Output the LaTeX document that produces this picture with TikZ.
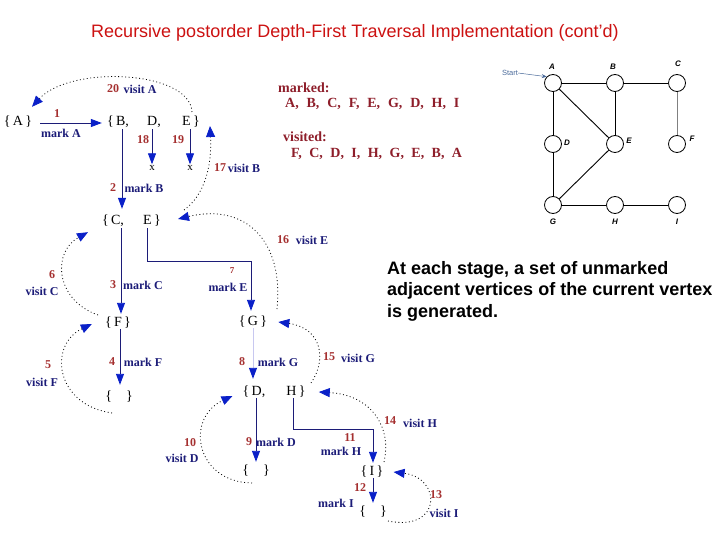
\documentclass[tikz,border=0pt]{standalone}
\usepackage{fontspec}
\setmainfont{Liberation Serif}
\setsansfont{Liberation Sans}
\usetikzlibrary{arrows.meta}
\definecolor{navy}{HTML}{1C1C78}
\definecolor{tipblue}{HTML}{0A20C8}
\definecolor{numred}{HTML}{A53030}
\definecolor{titlered}{HTML}{CC1111}
\definecolor{mred}{HTML}{8E1E2A}
\definecolor{faint}{HTML}{C8C8F0}
\definecolor{startblue}{HTML}{4A6A9A}
\begin{document}
\begin{tikzpicture}[x=1pt,y=-1pt,
  set/.style={font=\fontsize{14}{14}\selectfont, inner sep=0pt, text height=9pt, text depth=3pt},
  num/.style={font=\bfseries\fontsize{12}{12}\selectfont, text=numred, inner sep=0pt},
  lbl/.style={font=\bfseries\fontsize{12}{12}\selectfont, text=navy, inner sep=0pt},
  arr/.style={draw=navy, line width=0.9pt, -{Triangle[length=11pt,width=8pt,color=tipblue]}},
  farr/.style={arr, draw=faint},
  dots/.style={draw=black, dash pattern=on 0.9pt off 2.6pt, line width=0.8pt, -{Triangle[length=11pt,width=9pt,color=tipblue]}},
  vtx/.style={circle, draw, line width=0.8pt, minimum size=17pt, inner sep=0pt, fill=white},
  vl/.style={font=\sffamily\itshape\bfseries\fontsize{8}{8}\selectfont, inner sep=0pt},
  ge/.style={line width=0.9pt},
  info/.style={font=\bfseries\fontsize{14}{14}\selectfont, text=mred, inner sep=0pt, anchor=west}
]
\useasboundingbox (0,0) rectangle (720,540);

% title
\node[font=\sffamily\fontsize{18}{20}\selectfont, text=titlered, inner sep=0pt] (title) at (355,33) {Recursive postorder Depth-First Traversal Implementation (cont'd)};

% sets
\node[set] (sA)  at (18,123)  {\{\,A\,\}};
\node[set] (sB1) at (118,123) {\{\,B,};
\node[set] (sB2) at (154,123) {D,};
\node[set] (sB3) at (191,123) {E\,\}};
\node[set, font=\fontsize{11}{11}\selectfont, text height=5pt, text depth=0pt] (x1) at (152,168) {x};
\node[set, font=\fontsize{11}{11}\selectfont, text height=5pt, text depth=0pt] (x2) at (190,168) {x};
\node[set] (sC1) at (113,222) {\{\,C,};
\node[set] (sC2) at (152,222) {E\,\}};
\node[set] (sF)  at (118,323) {\{\,F\,\}};
\node[set] (sG)  at (253,322) {\{\,G\,\}};
\node[set] (sE1) at (119,397) {\{\quad\}};
\node[set] (sD1) at (254,392) {\{\,D,};
\node[set] (sD2) at (296,392) {H\,\}};
\node[set] (sE2) at (256,471) {\{\quad\}};
\node[set] (sI)  at (372,472) {\{\,I\,\}};
\node[set] (sE3) at (373,512) {\{\quad\}};

% solid arrows
\draw[arr, shorten <=8pt, shorten >=5pt] (sA.east) -- (sB1.west);
\draw[arr, shorten >=7pt] ([xshift=4pt]sB1.south) -- ([xshift=4pt]sB1.south |- sC1.north);
\draw[arr, shorten >=1pt] (x1 |- sB2.south) -- (x1.north);
\draw[arr, shorten >=1pt] (x2 |- sB3.south) -- (x2.north);
\draw[arr, shorten >=3pt] ([xshift=8pt]sC1.south) -- ([xshift=8pt]sC1.south |- sF.north);
\draw[arr, shorten >=5pt] ([xshift=-5pt]sC2.south) -- ++(0,33) -| ([xshift=-2pt]sG.north);
\draw[arr, shorten >=6pt] ([xshift=2pt]sF.south) -- ([xshift=2pt]sF.south |- sE1.north);
\draw[farr, shorten >=7pt] (sG.south) -- (sG.south |- sD1.north);
\draw[arr, shorten >=3pt] ([xshift=2pt]sD1.south) -- ([xshift=2pt]sD1.south |- sE2.north);
\draw[arr, shorten >=3pt] ([xshift=-3pt]sD2.south) -- ++(0,31) -| ([xshift=1pt]sI.north);
\draw[arr, shorten >=3pt] ([xshift=1pt]sI.south) -- ([xshift=1pt]sI.south |- sE3.north);

% labels of solid arrows
\node[num] (n1) at (57,114) {1};   \node[lbl] (m1) at (61,133) {mark A};
\node[num] (n2) at (113,188) {2};  \node[lbl] (m2) at (144,188) {mark B};
\node[num] (n18) at (143,140) {18};
\node[num] (n19) at (178,140) {19};
\node[num] (n3) at (113,285) {3};  \node[lbl] (m3) at (143,285) {mark C};
\node[num, font=\bfseries\fontsize{9}{9}\selectfont] (n7) at (232,271) {7}; \node[lbl] (m7) at (228,287) {mark E};
\node[num] (n4) at (112,362) {4};  \node[lbl] (m4) at (143,362) {mark F};
\node[num] (n8) at (242,362) {8};  \node[lbl] (m8) at (278,362) {mark G};
\node[num] (n9) at (249,442) {9};  \node[lbl] (m9) at (276,442) {mark D};
\node[num] (n11) at (350,438) {11}; \node[lbl] (m11) at (341,451) {mark H};
\node[num] (n12) at (360,488) {12}; \node[lbl] (m12) at (336,503) {mark I};

% dotted return arcs
\coordinate (c20) at (192,112);
\coordinate (c17) at (184,210);
\coordinate (c16) at (277,309);
\coordinate (c6)  at (98,315);
\coordinate (c5)  at (112,413);
\coordinate (c15) at (311,383);
\coordinate (c14) at (384,462);
\coordinate (c13) at (388,521);
\coordinate (c10) at (252,483);
\draw[dots] (c20) .. controls (190,70) and (70,65) .. ([shift={(14pt,10pt)}]sA.north);
\draw[dots] (c17) .. controls (205,195) and (212,165) .. ([xshift=10pt,yshift=-3pt]sB3.east);
\draw[dots] (c16) .. controls (284,240) and (245,203) .. ([xshift=17pt,yshift=3pt]sC2.east);
\draw[dots] (c6) .. controls (55,300) and (52,252) .. ([shift={(-25pt,-4pt)}]sC1.south);
\draw[dots] (c5) .. controls (55,405) and (48,345) .. ([xshift=-13pt,yshift=-1pt]sF.west);
\draw[dots] (c15) .. controls (327,360) and (322,328) .. ([xshift=11pt]sG.east);
\draw[dots] (c14) .. controls (392,428) and (372,395) .. ([xshift=13pt]sD2.east);
\draw[dots] (c13) .. controls (442,532) and (442,478) .. ([xshift=10pt]sI.east);
\draw[dots] (c10) .. controls (195,482) and (185,418) .. ([xshift=-10pt,yshift=-4pt]sD1.west);

% labels of dotted arcs
\node[num] (n20) at (113,89) {20};  \node[lbl] (v20) at (140,89) {visit A};
\node[num] (n17) at (220,168) {17}; \node[lbl] (v17) at (244,168) {visit B};
\node[num] (n16) at (283,240) {16}; \node[lbl] (v16) at (312,240) {visit E};
\node[num] (n6) at (52,275) {6};    \node[lbl] (v6) at (42,291) {visit C};
\node[num] (n5) at (48,365) {5};    \node[lbl] (v5) at (42,382) {visit F};
\node[num] (n15) at (329,357) {15}; \node[lbl] (v15) at (358,358) {visit G};
\node[num] (n14) at (390,421) {14}; \node[lbl] (v14) at (420,423) {visit H};
\node[num] (n10) at (190,443) {10}; \node[lbl] (v10) at (182,458) {visit D};
\node[num] (n13) at (436,495) {13}; \node[lbl] (v13) at (444,513) {visit I};

% marked / visited
\node[info] (mk) at (278,88) {marked:};
\node[info] (mkl) at (285,104) {A,\hspace{0.56em}B,\hspace{0.56em}C,\hspace{0.56em}F,\hspace{0.56em}E,\hspace{0.56em}G,\hspace{0.56em}D,\hspace{0.56em}H,\hspace{0.56em}I};
\node[info] (vs) at (283,137) {visited:};
\node[info] (vsl) at (291,154) {F,\hspace{0.53em}C,\hspace{0.53em}D,\hspace{0.53em}I,\hspace{0.53em}H,\hspace{0.53em}G,\hspace{0.53em}E,\hspace{0.53em}B,\hspace{0.53em}A};

% explanation
\node[font=\sffamily\bfseries\fontsize{18}{21.5}\selectfont, align=left, anchor=base west, inner sep=0pt] (txt) at (387,317)
  {At each stage, a set of unmarked\\adjacent vertices of the current vertex\\is generated.};

% graph
\node[vtx] (A) at (553,83) {};
\node[vtx] (B) at (615,83) {};
\node[vtx] (C) at (677,83) {};
\node[vtx] (D) at (553,144) {};
\node[vtx] (E) at (615,144) {};
\node[vtx] (F) at (677,144) {};
\node[vtx] (G) at (553,205) {};
\node[vtx] (H) at (615,205) {};
\node[vtx] (I) at (677,205) {};
\draw[ge] (A) -- (B);
\draw[ge] (B) -- (C);
\draw[ge] (A) -- (D);
\draw[ge] (A) -- (E);
\draw[ge] (B) -- (E);
\draw[ge, draw=gray] (C) -- (F);
\draw[ge] (D) -- (G);
\draw[ge] (E) -- (G);
\draw[ge] (G) -- (H);
\draw[ge] (H) -- (I);
\node[vl] (lA) at (552,67) {A};
\node[vl] (lB) at (613,67) {B};
\node[vl] (lC) at (678,64) {C};
\node[vl] (lD) at (567,143) {D};
\node[vl] (lE) at (629,141) {E};
\node[vl] (lF) at (692,139) {F};
\node[vl] (lG) at (553,222) {G};
\node[vl] (lH) at (615,222) {H};
\node[vl] (lI) at (677,222) {I};
\node[font=\sffamily\fontsize{7.5}{8}\selectfont, text=startblue, inner sep=0pt] (start) at (510,73) {Start};
\draw[draw=startblue, line width=0.5pt, -{Stealth[length=5pt,width=4pt]}] (start.east) -- (A.north west);
\end{tikzpicture}
\end{document}
